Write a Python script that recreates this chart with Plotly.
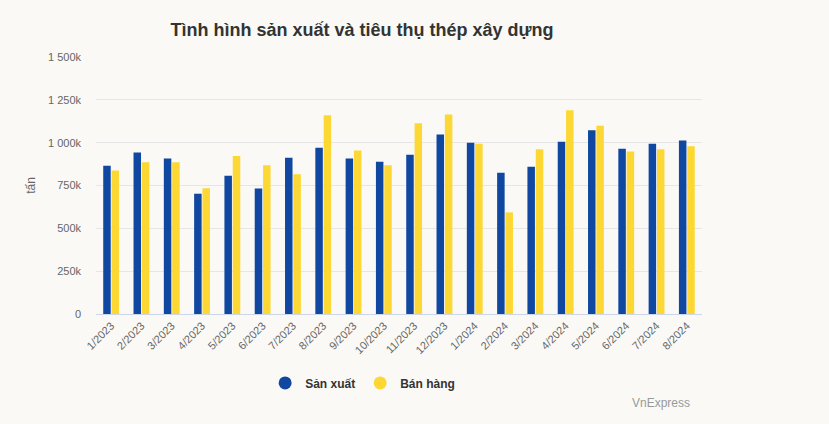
import plotly.graph_objects as go

months = ["1/2023", "2/2023", "3/2023", "4/2023", "5/2023", "6/2023", "7/2023", "8/2023",
          "9/2023", "10/2023", "11/2023", "12/2023", "1/2024", "2/2024", "3/2024", "4/2024",
          "5/2024", "6/2024", "7/2024", "8/2024"]

# tấn
san_xuat = [866000, 942000, 907000, 702000, 807000, 732000, 912000, 971000,
            907000, 889000, 930000, 1047000, 1000000, 825000, 860000, 1006000,
            1072000, 965000, 994000, 1012000]
ban_hang = [838000, 885000, 885000, 734000, 922000, 868000, 815000, 1160000,
            955000, 868000, 1113000, 1165000, 994000, 593000, 961000, 1189000,
            1099000, 949000, 961000, 979000]

y_ticks = [0, 250000, 500000, 750000, 1000000, 1250000, 1500000]
y_labels = ["0", "250k", "500k", "750k", "1 000k", "1 250k", "1 500k"]

BLUE = "#0f47a1"
YELLOW = "#fdd835"
BG = "#faf9f6"

fig = go.Figure()
fig.add_trace(go.Bar(x=months, y=san_xuat, name="Sản xuất", marker_color=BLUE,
                     marker_line_width=0, showlegend=False))
fig.add_trace(go.Bar(x=months, y=ban_hang, name="Bán hàng", marker_color=YELLOW,
                     marker_line_width=0, showlegend=False))

# circle legend markers like the original
for name, color in [("Sản xuất", BLUE), ("Bán hàng", YELLOW)]:
    fig.add_trace(go.Scatter(x=[None], y=[None], mode="markers", name="<b>" + name + "</b>",
                             marker=dict(color=color, size=13, symbol="circle")))

fig.update_layout(
    width=829, height=424,
    margin=dict(l=96, r=127, t=57, b=110),
    paper_bgcolor=BG, plot_bgcolor=BG,
    font=dict(family="Liberation Sans, Arial, sans-serif", color="#666666", size=11),
    title=dict(text="<b>Tình hình sản xuất và tiêu thụ thép xây dựng</b>",
               x=362 / 829, xanchor="center", y=1 - 30 / 424, yanchor="middle",
               font=dict(size=18, color="#333333")),
    barmode="group", bargap=0.45, bargroupgap=0.1,
    legend=dict(orientation="h", x=0.44, xanchor="center", y=-0.268, yanchor="middle",
                font=dict(size=12, color="#333333", family="Liberation Sans, Arial, sans-serif"),
                itemwidth=30, bgcolor="rgba(0,0,0,0)"),
    hovermode=False,
    annotations=[dict(text="VnExpress", xref="paper", yref="paper",
                      x=(692 - 96) / 606, xanchor="right", y=(314 - 403) / 257, yanchor="middle",
                      showarrow=False, font=dict(size=12, color="#999999"))],
)

fig.update_xaxes(tickangle=-45, showline=True, linecolor="#ccd6eb", linewidth=1,
                 showgrid=False, ticks="", tickfont=dict(size=11, color="#666666"))
fig.update_yaxes(range=[0, 1500000], tickvals=y_ticks, ticktext=y_labels,
                 gridcolor="#e6e6e6", gridwidth=1, zeroline=False, showline=False,
                 ticklabelstandoff=14, tickfont=dict(size=11, color="#666666"),
                 title=dict(text="tấn", standoff=9, font=dict(size=12, color="#666666")))

fig.write_html("out.html", config={"displayModeBar": False},
               post_script="document.body.style.margin='0';"
                           "document.body.style.background='" + BG + "';")
